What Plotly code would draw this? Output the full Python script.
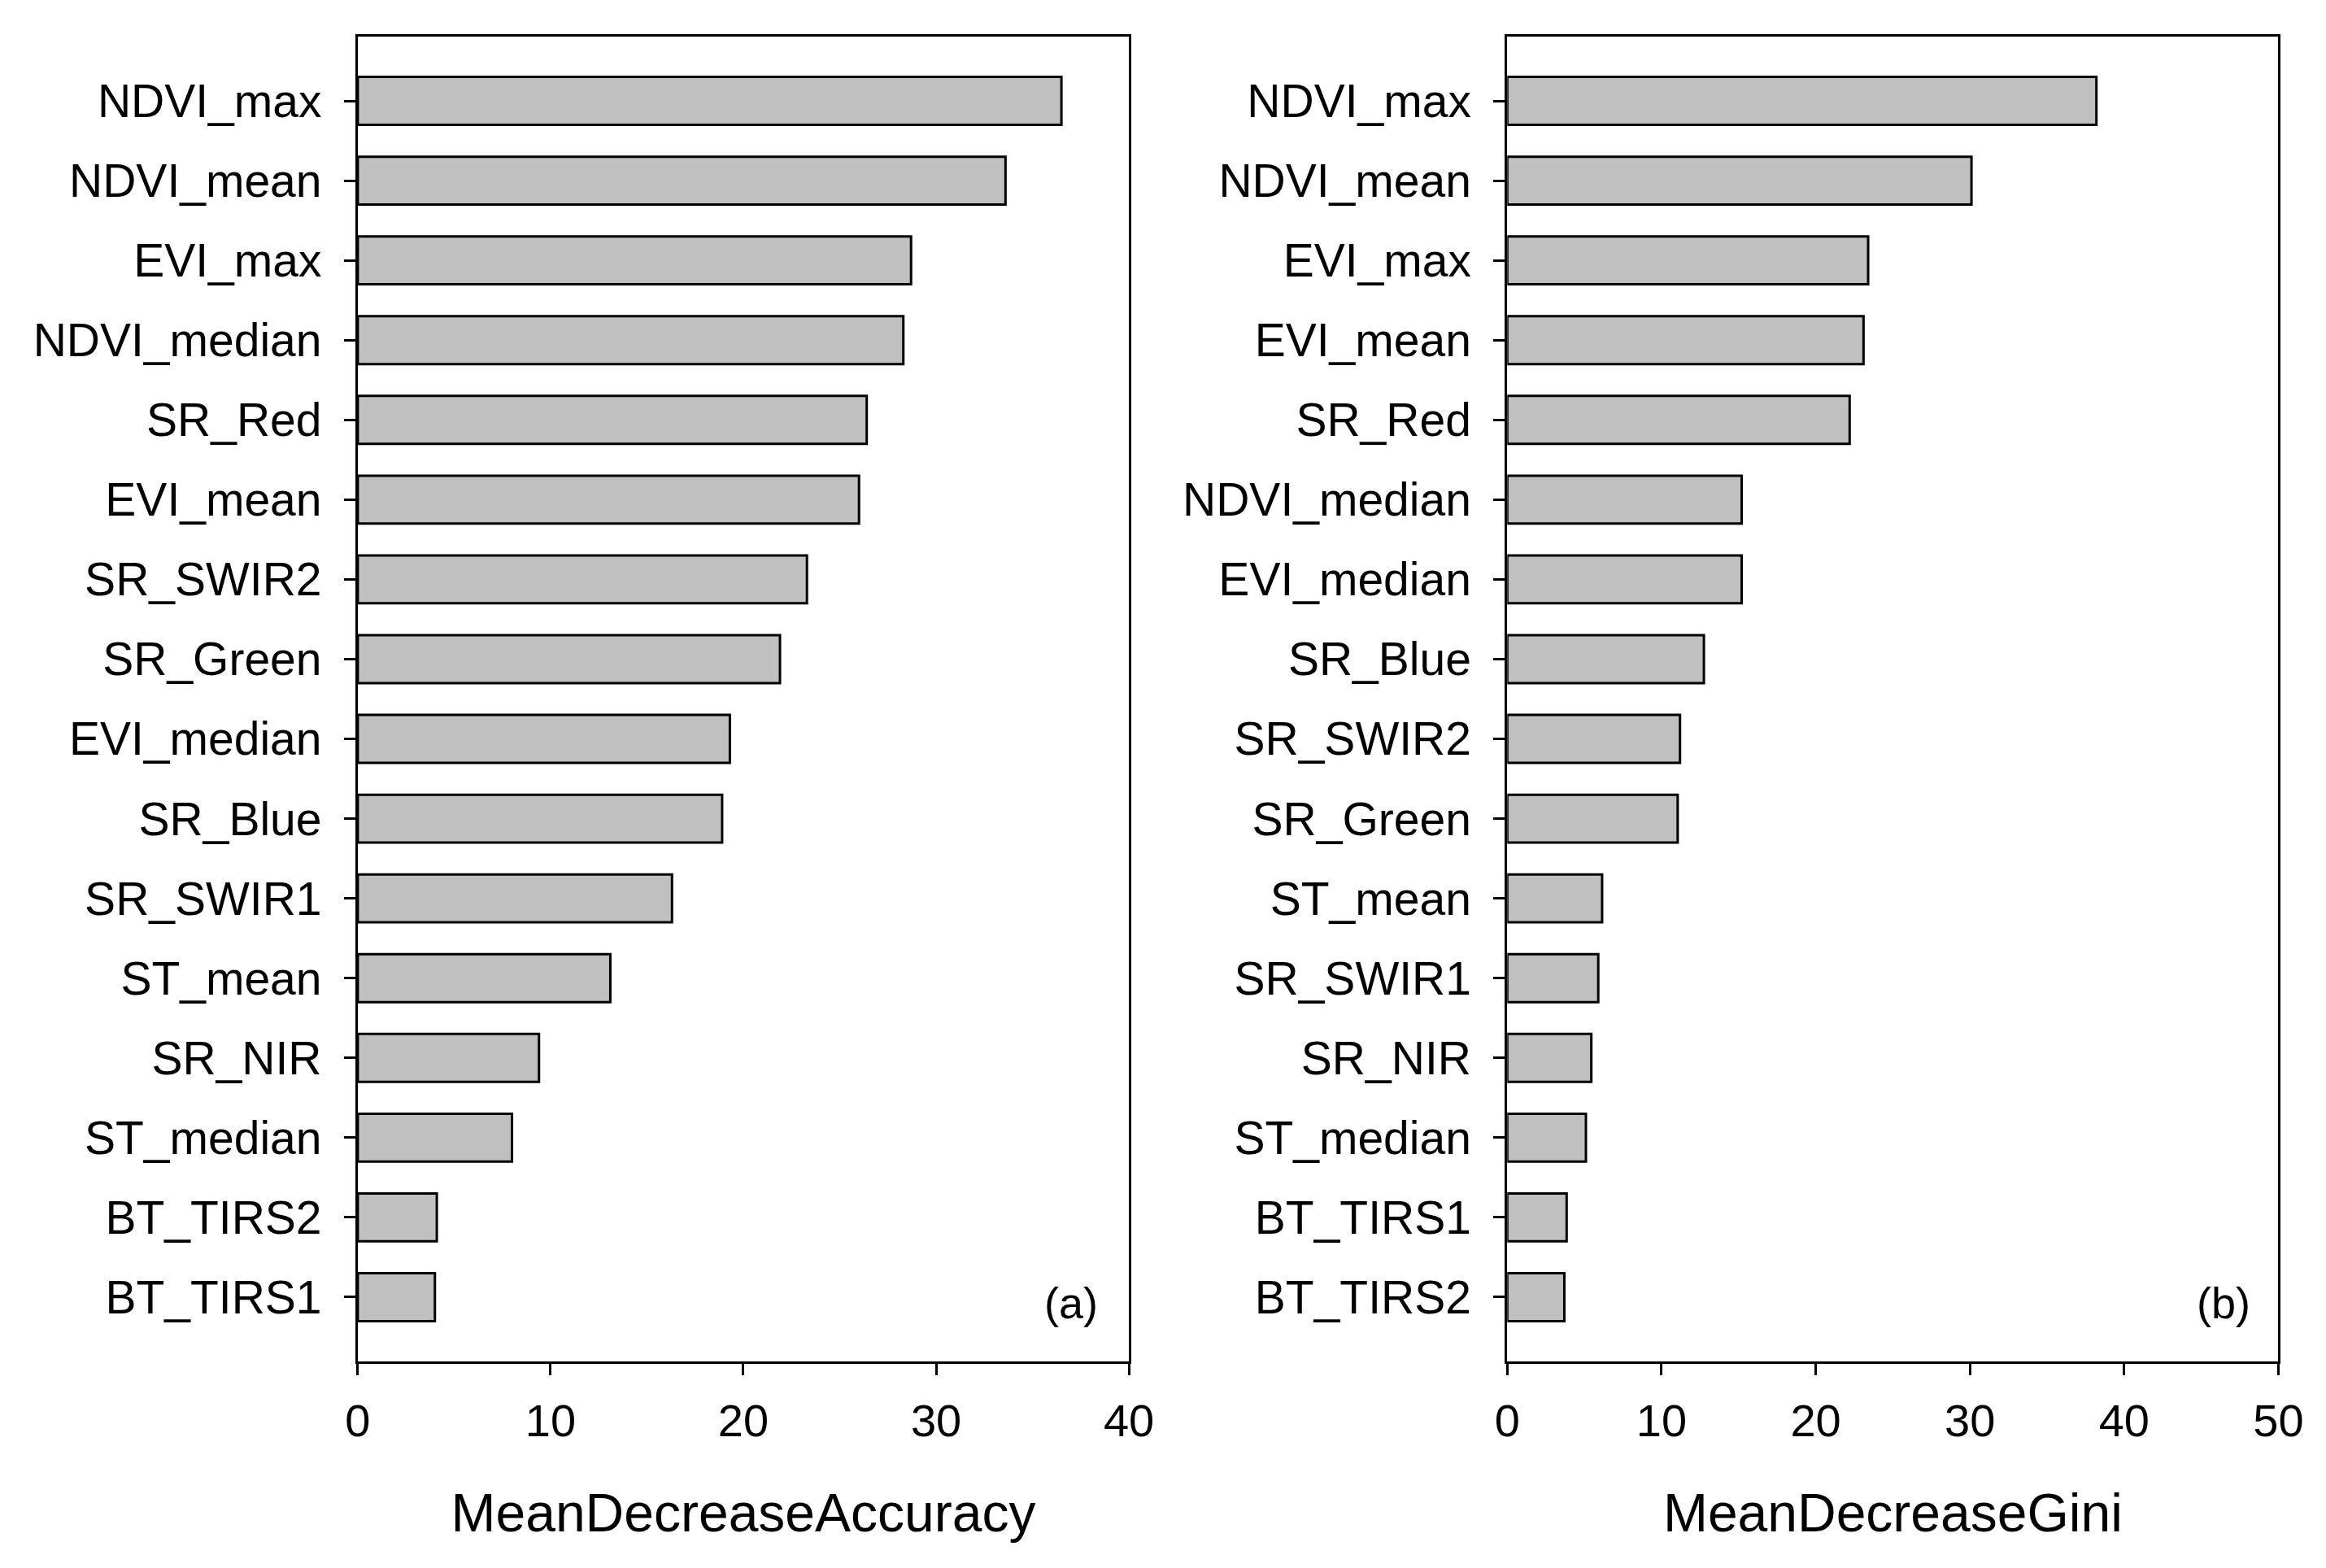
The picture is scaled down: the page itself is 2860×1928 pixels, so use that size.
import plotly.graph_objects as go

# Panel (a): MeanDecreaseAccuracy
cats_a = ["NDVI_max", "NDVI_mean", "EVI_max", "NDVI_median", "SR_Red", "EVI_mean",
          "SR_SWIR2", "SR_Green", "EVI_median", "SR_Blue", "SR_SWIR1", "ST_mean",
          "SR_NIR", "ST_median", "BT_TIRS2", "BT_TIRS1"]
vals_a = [36.5, 33.6, 28.7, 28.3, 26.4, 26.0, 23.3, 21.9, 19.3, 18.9, 16.3, 13.1,
          9.4, 8.0, 4.1, 4.0]

# Panel (b): MeanDecreaseGini
cats_b = ["NDVI_max", "NDVI_mean", "EVI_max", "EVI_mean", "SR_Red", "NDVI_median",
          "EVI_median", "SR_Blue", "SR_SWIR2", "SR_Green", "ST_mean", "SR_SWIR1",
          "SR_NIR", "ST_median", "BT_TIRS1", "BT_TIRS2"]
vals_b = [38.2, 30.1, 23.4, 23.1, 22.2, 15.2, 15.2, 12.75, 11.2, 11.05, 6.15, 5.9,
          5.45, 5.1, 3.85, 3.7]

ticks_a = [0, 10, 20, 30, 40]
ticks_b = [0, 10, 20, 30, 40, 50]

W, H = 2860, 1928
FONT = "Liberation Sans, Arial, sans-serif"
BAR_FILL = "#c0c0c0"

fig = go.Figure()
fig.add_trace(go.Bar(x=vals_a, y=cats_a, orientation="h", width=0.6,
                     marker=dict(color=BAR_FILL, line=dict(color="black", width=3)),
                     xaxis="x", yaxis="y", showlegend=False))
fig.add_trace(go.Bar(x=vals_b, y=cats_b, orientation="h", width=0.6,
                     marker=dict(color=BAR_FILL, line=dict(color="black", width=3)),
                     xaxis="x2", yaxis="y2", showlegend=False))

ydom = [1 - 1674 / H, 1 - 45 / H]
n = len(cats_a)
yrange = [n - 1 + 0.806, -0.806]

common_x = dict(showgrid=False, zeroline=False, showline=True, linecolor="black",
                linewidth=3, mirror=True, ticks="outside", ticklen=14, tickwidth=3,
                tickcolor="black", tickfont=dict(family=FONT, size=56, color="black"),
                ticklabelstandoff=8,
                title_font=dict(family=FONT, size=66, color="black"), title_standoff=60)
common_y = dict(showgrid=False, zeroline=False, showline=True, linecolor="black",
                linewidth=3, mirror=True, ticks="outside", ticklen=14, tickwidth=3,
                tickcolor="black", tickfont=dict(family=FONT, size=57, color="black"),
                ticklabelstandoff=16, type="category", range=yrange, domain=ydom)

fig.update_layout(
    width=W, height=H,
    margin=dict(l=0, r=0, t=0, b=0),
    paper_bgcolor="white", plot_bgcolor="white",
    font=dict(family=FONT, color="black"),
    xaxis=dict(domain=[431 / W, 1395 / W], range=[0, 40], tickvals=ticks_a,
               title_text="MeanDecreaseAccuracy", anchor="y", **common_x),
    yaxis=dict(anchor="x", categoryorder="array", categoryarray=cats_a, **common_y),
    xaxis2=dict(domain=[1868 / W, 2832 / W], range=[0, 50], tickvals=ticks_b,
                title_text="MeanDecreaseGini", anchor="y2", **common_x),
    yaxis2=dict(anchor="x2", categoryorder="array", categoryarray=cats_b, **common_y),
    annotations=[
        dict(text="(a)", xref="x domain", yref="y domain", x=0.925, y=0.044,
             xanchor="center", yanchor="middle", showarrow=False,
             font=dict(family=FONT, size=54, color="black")),
        dict(text="(b)", xref="x2 domain", yref="y2 domain", x=0.929, y=0.044,
             xanchor="center", yanchor="middle", showarrow=False,
             font=dict(family=FONT, size=54, color="black")),
    ],
)

fig.write_html("out.html", config={"displayModeBar": False},
               post_script="document.body.style.margin='0';"
                           "document.documentElement.style.overflow='hidden';")
